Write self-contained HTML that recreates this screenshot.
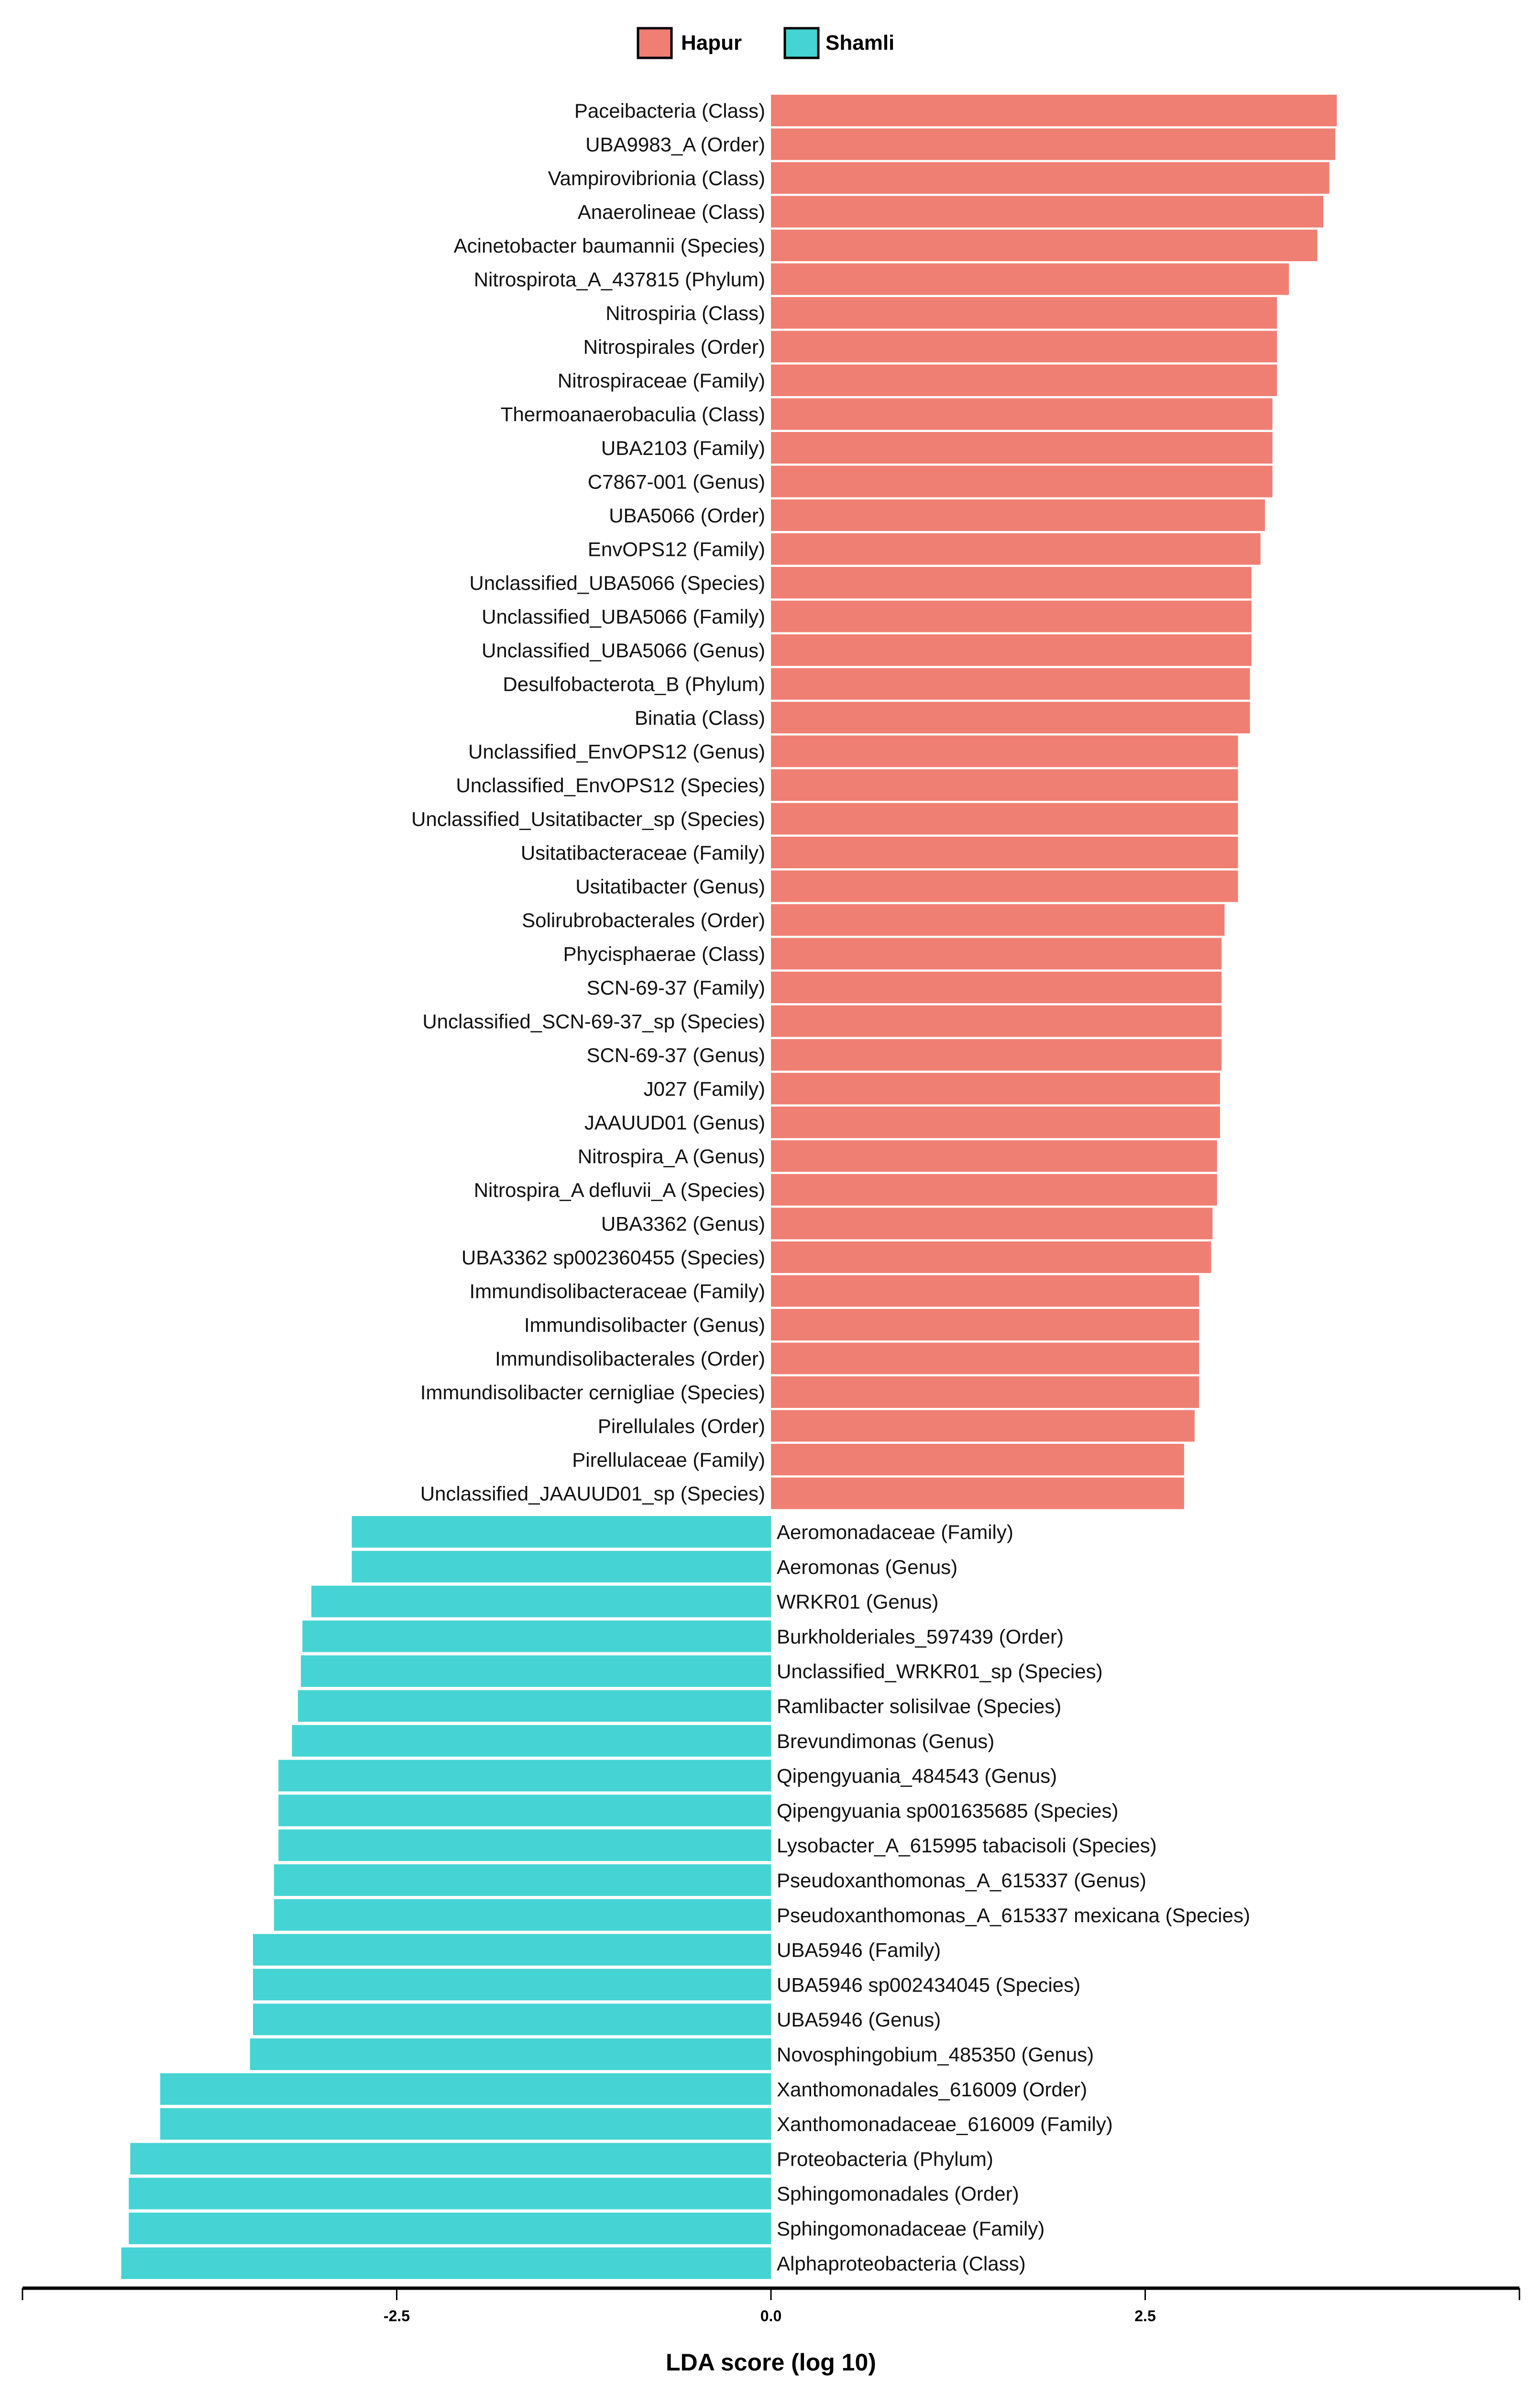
<!DOCTYPE html>
<html><head><meta charset="utf-8"><style>
html,body{margin:0;padding:0;background:#fff;width:3220px;height:5020px;overflow:hidden;}
svg{display:block;}
text{font-family:"Liberation Sans Narrow","Liberation Sans",sans-serif;}
</style></head><body>
<svg id="chart" width="3220" height="5020" viewBox="0 0 3220 5020" xmlns="http://www.w3.org/2000/svg">
<g>
<rect x="1334" y="59" width="70" height="62" fill="#F07F73" stroke="#000" stroke-width="5"/>
<text x="1424" y="104" font-size="44" font-weight="bold">Hapur</text>
<rect x="1641" y="59" width="70" height="62" fill="#45D3D3" stroke="#000" stroke-width="5"/>
<text x="1726" y="104" font-size="44" font-weight="bold">Shamli</text>
</g>
<g id="bars"></g>
<g id="axis"></g>
</svg>
<script>
const hapurLabels=["Paceibacteria (Class)","UBA9983_A (Order)","Vampirovibrionia (Class)","Anaerolineae (Class)","Acinetobacter baumannii (Species)","Nitrospirota_A_437815 (Phylum)","Nitrospiria (Class)","Nitrospirales (Order)","Nitrospiraceae (Family)","Thermoanaerobaculia (Class)","UBA2103 (Family)","C7867-001 (Genus)","UBA5066 (Order)","EnvOPS12 (Family)","Unclassified_UBA5066 (Species)","Unclassified_UBA5066 (Family)","Unclassified_UBA5066 (Genus)","Desulfobacterota_B (Phylum)","Binatia (Class)","Unclassified_EnvOPS12 (Genus)","Unclassified_EnvOPS12 (Species)","Unclassified_Usitatibacter_sp (Species)","Usitatibacteraceae (Family)","Usitatibacter (Genus)","Solirubrobacterales (Order)","Phycisphaerae (Class)","SCN-69-37 (Family)","Unclassified_SCN-69-37_sp (Species)","SCN-69-37 (Genus)","J027 (Family)","JAAUUD01 (Genus)","Nitrospira_A (Genus)","Nitrospira_A defluvii_A (Species)","UBA3362 (Genus)","UBA3362 sp002360455 (Species)","Immundisolibacteraceae (Family)","Immundisolibacter (Genus)","Immundisolibacterales (Order)","Immundisolibacter cernigliae (Species)","Pirellulales (Order)","Pirellulaceae (Family)","Unclassified_JAAUUD01_sp (Species)"];
const hapurValues=[3.78,3.77,3.73,3.69,3.65,3.46,3.38,3.38,3.38,3.35,3.35,3.35,3.30,3.27,3.21,3.21,3.21,3.20,3.20,3.12,3.12,3.12,3.12,3.12,3.03,3.01,3.01,3.01,3.01,3.00,3.00,2.98,2.98,2.95,2.94,2.86,2.86,2.86,2.86,2.83,2.76,2.76];
const shamliLabels=["Aeromonadaceae (Family)","Aeromonas (Genus)","WRKR01 (Genus)","Burkholderiales_597439 (Order)","Unclassified_WRKR01_sp (Species)","Ramlibacter solisilvae (Species)","Brevundimonas (Genus)","Qipengyuania_484543 (Genus)","Qipengyuania sp001635685 (Species)","Lysobacter_A_615995 tabacisoli (Species)","Pseudoxanthomonas_A_615337 (Genus)","Pseudoxanthomonas_A_615337 mexicana (Species)","UBA5946 (Family)","UBA5946 sp002434045 (Species)","UBA5946 (Genus)","Novosphingobium_485350 (Genus)","Xanthomonadales_616009 (Order)","Xanthomonadaceae_616009 (Family)","Proteobacteria (Phylum)","Sphingomonadales (Order)","Sphingomonadaceae (Family)","Alphaproteobacteria (Class)"];
const shamliValues=[-2.80,-2.80,-3.07,-3.13,-3.14,-3.16,-3.20,-3.29,-3.29,-3.29,-3.32,-3.32,-3.46,-3.46,-3.46,-3.48,-4.08,-4.08,-4.28,-4.29,-4.29,-4.34];
const tickValues=[-5,-2.5,0,2.5,5];
const tickLabels=["","-2.5","0.0","2.5",""];

const NS="http://www.w3.org/2000/svg";
const x=v=>1612+v*313;
const yH=i=>231+i*70.5;
const yS=i=>3202+i*72.8;
const bars=document.getElementById('bars');
function mk(tag,attrs,parent){const e=document.createElementNS(NS,tag);for(const k in attrs)e.setAttribute(k,attrs[k]);parent.appendChild(e);return e;}
hapurValues.forEach((v,i)=>{
  const cy=yH(i);
  const r=mk('rect',{x:x(0),y:cy-33,width:x(v)-x(0),height:66,fill:'#F07F73'},bars);
  
  
  const t=mk('text',{x:x(0)-12,y:cy+15,'font-size':42,'text-anchor':'end',fill:'#111'},bars);
  t.textContent=hapurLabels[i];
  
  
});
shamliValues.forEach((v,i)=>{
  const cy=yS(i);
  const r=mk('rect',{x:x(v),y:cy-33,width:x(0)-x(v),height:66,fill:'#45D3D3'},bars);
  
  
  const t=mk('text',{x:x(0)+12,y:cy+15,'font-size':42,'text-anchor':'start',fill:'#111'},bars);
  t.textContent=shamliLabels[i];
  
  
});
const ax=document.getElementById('axis');
const line=mk('line',{x1:x(-5),x2:x(5),y1:4783,y2:4783,stroke:'#000','stroke-width':7},ax);


tickValues.forEach((v,i)=>{
  const tk=mk('line',{x1:x(v),x2:x(v),y1:4783,y2:4808,stroke:'#000','stroke-width':3},ax);
  
  
  if(tickLabels[i]){
    const t=mk('text',{x:x(v),y:4852,'font-size':32,'font-weight':'bold','text-anchor':'middle'},ax);
    t.textContent=tickLabels[i];
    
    
  }
});
const title=mk('text',{x:x(0),y:4955,'font-size':50,'font-weight':'bold','text-anchor':'middle'},ax);
title.textContent="LDA score (log 10)";


</script>
</body></html>
